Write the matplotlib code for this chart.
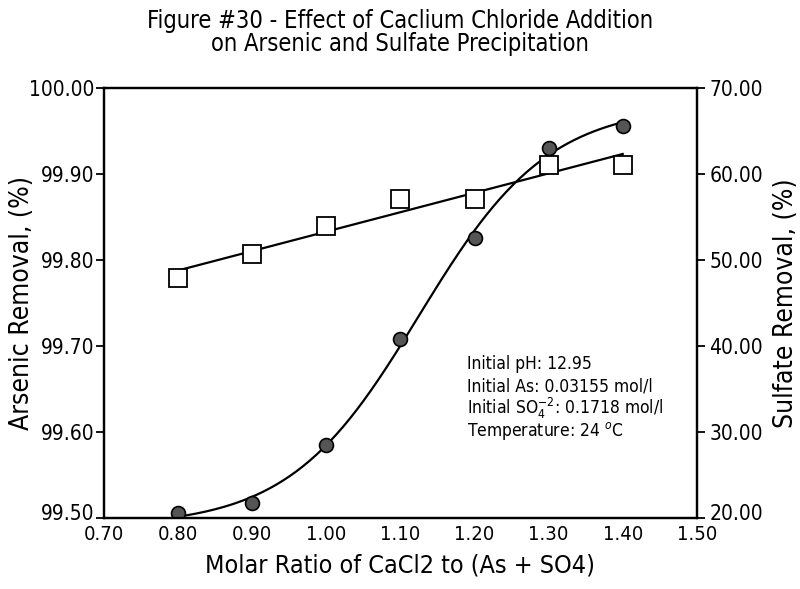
import numpy as np
import matplotlib
matplotlib.use("Agg")
import matplotlib.pyplot as plt
from matplotlib.transforms import ScaledTranslation

plt.rcParams['font.family'] = ['DejaVu Sans']
plt.rcParams['font.stretch'] = 'condensed'

ratio = [0.80, 0.90, 1.00, 1.10, 1.20, 1.30, 1.40]
arsenic = [99.506, 99.517, 99.585, 99.708, 99.826, 99.930, 99.956]
sulfate = [47.9, 50.7, 54.0, 57.1, 57.1, 61.1, 61.0]
x_ticks = [0.70, 0.80, 0.90, 1.00, 1.10, 1.20, 1.30, 1.40, 1.50]
as_ticks = [99.50, 99.60, 99.70, 99.80, 99.90, 100.00]
so4_ticks = [20, 30, 40, 50, 60, 70]


def logistic_fit(x, y):
    # least squares in a, b for each (c, d) on a grid
    x = np.asarray(x)
    y = np.asarray(y)
    best = None
    for c in np.linspace(0.9, 1.3, 81):
        for d in np.linspace(0.03, 0.2, 69):
            g = 1.0 / (1.0 + np.exp(-(x - c) / d))
            A = np.column_stack([np.ones_like(x), g])
            coef, *_ = np.linalg.lstsq(A, y, rcond=None)
            err = np.sum((A @ coef - y) ** 2)
            if best is None or err < best[0]:
                best = (err, coef, c, d)
    _, coef, c, d = best
    return lambda t: coef[0] + coef[1] / (1.0 + np.exp(-(t - c) / d))


fig = plt.figure(figsize=(8, 5.89), dpi=100)
ax = fig.add_axes([0.13, 0.1205, 0.741, 0.7301])
ax2 = ax.twinx()

xs = np.linspace(0.8, 1.4, 200)
curve_as = logistic_fit(ratio, arsenic)
fit_so = np.polyfit(ratio, sulfate, 1)

ax.plot(xs, curve_as(xs), color='black', lw=1.6, zorder=2)
ax.plot(ratio, arsenic, 'o', ms=10, mfc='#555555', mec='black', mew=1.2, zorder=3)
ax2.plot(xs, np.polyval(fit_so, xs), color='black', lw=1.6, zorder=2)
ax2.plot(ratio, sulfate, 's', ms=13, mfc='white', mec='black', mew=1.3, zorder=3)

ax.set_xlim(0.70, 1.50)
ax.set_ylim(99.50, 100.00)
ax2.set_ylim(20, 70)
ax.set_xticks(x_ticks)
ax.set_xticklabels([f'{v:.2f}' for v in x_ticks], fontsize=14.5)
ax.set_yticks(as_ticks)
ax.set_yticklabels([f'{v:.2f}' for v in as_ticks], fontsize=15)
ax2.set_yticks(so4_ticks)
ax2.set_yticklabels([f'{v:.2f}' for v in so4_ticks], fontsize=15)
ax.tick_params(axis='x', length=0, pad=5)
ax.tick_params(axis='y', length=6, width=1.3, pad=1)
ax2.tick_params(axis='y', length=6, width=1.3, pad=3)
for a in (ax, ax2):
    for s in a.spines.values():
        s.set_linewidth(1.6)

# lowest labels sit a little above their ticks, as in the original
lift = ScaledTranslation(0, 4 / 72, fig.dpi_scale_trans)
for lab in (ax.get_yticklabels()[0], ax2.get_yticklabels()[0]):
    lab.set_transform(lab.get_transform() + lift)

ax.set_xlabel('Molar Ratio of CaCl2 to (As + SO4)', fontsize=18, labelpad=7)
ax.set_ylabel('Arsenic Removal, (%)', fontsize=19)
ax2.set_ylabel('Sulfate Removal, (%)', fontsize=19)
ax.yaxis.set_label_coords(-0.117, 0.5)
ax2.yaxis.set_label_coords(1.128, 0.5)
fig.suptitle('Figure #30 - Effect of Caclium Chloride Addition\non Arsenic and Sulfate Precipitation',
             fontsize=17, y=0.985, linespacing=0.95)

notes = ['Initial pH: 12.95',
         'Initial As: 0.03155 mol/l',
         'Initial SO$_4^{-2}$: 0.1718 mol/l',
         'Temperature: 24 $^{o}$C']
for i, t in enumerate(notes):
    ax.text(0.613, 0.358 - i * 0.052, t, transform=ax.transAxes, fontsize=12.5,
            va='center', ha='left')

fig.savefig('out.png', dpi=100)
